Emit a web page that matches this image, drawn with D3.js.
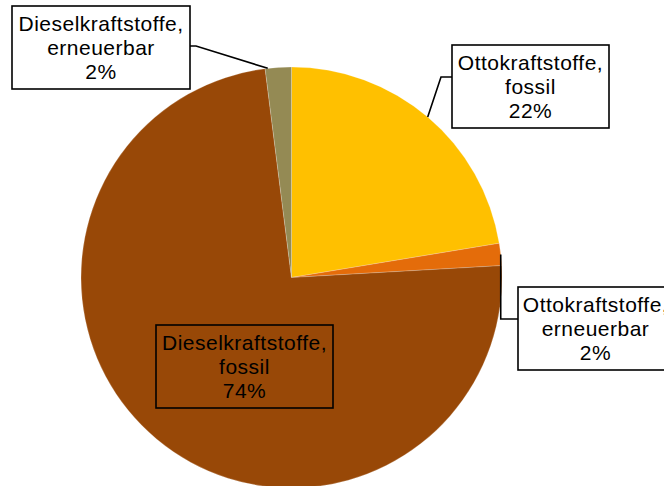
<!DOCTYPE html>
<html>
<head>
<meta charset="utf-8">
<script src="https://cdn.jsdelivr.net/npm/d3@7"></script>
<style>
  body { margin: 0; background: #fff; }
  svg { display: block; }
  .lbl text { font-family: "Liberation Sans", Arial, sans-serif; font-size: 21px; letter-spacing: 0.5px; fill: #000; }
</style>
</head>
<body>
<svg width="664" height="486"></svg>
<script>
// Daten
const categories = ["Ottokraftstoffe, fossil", "Ottokraftstoffe, erneuerbar", "Dieselkraftstoffe, fossil", "Dieselkraftstoffe, erneuerbar"];
const values = [22.4, 1.7, 73.9, 2.0];
const colors = ["#FFC000", "#E46C0A", "#984807", "#948A54"];

// Lage der Beschriftungen (Kasten links/oben, Knickpunkt der Führungslinie)
const labelBoxes = [
  { x: 452, y: 45, w: 157, h: 83, elbow: [441, 77], at: 0.5 },
  { x: 518, y: 287, w: 155, h: 83, elbow: [503, 319], at: 0.5, vertical: true },
  { x: 156, y: 325, w: 177, h: 83, elbow: null, at: 0.5 },
  { x: 12, y: 6, w: 178, h: 83, elbow: [196, 46], at: 0.1 }
];

const svg = d3.select("svg");
const cx = 291.5, cy = 277.5, r = 210.5;

const total = d3.sum(values);
const data = categories.map((c, i) => ({ name: c, value: values[i], color: colors[i], box: labelBoxes[i] }));

const pie = d3.pie().sort(null).value(d => d.value);
const arc = d3.arc().innerRadius(0).outerRadius(r);
const arcs = pie(data);

const g = svg.append("g").attr("transform", `translate(${cx},${cy})`);

g.selectAll("path")
  .data(arcs)
  .enter()
  .append("path")
  .attr("d", arc)
  .attr("fill", d => d.data.color)
  .attr("stroke", "rgba(255,255,255,0.35)")
  .attr("stroke-width", 0.6);

// Punkt auf dem Kreisrand
function edgePoint(d) {
  const a = d.startAngle + (d.endAngle - d.startAngle) * d.data.box.at;
  return [cx + r * Math.sin(a), cy - r * Math.cos(a)];
}

// Führungslinien
arcs.forEach(d => {
  const b = d.data.box;
  if (!b.elbow) return;
  const p = edgePoint(d);
  let pts;
  if (b.vertical) {
    pts = [p, [p[0], b.elbow[1]], [b.x, b.elbow[1]]];
  } else {
    const edgeX = b.elbow[0] > b.x ? b.x + b.w : b.x;
    pts = [[edgeX, b.elbow[1]], b.elbow, p];
  }
  svg.append("path")
    .attr("d", d3.line()(pts))
    .attr("fill", "none")
    .attr("stroke", "#000")
    .attr("stroke-width", 1.6);
});

// Beschriftungskästen
const lbl = svg.selectAll("g.lbl")
  .data(arcs)
  .enter()
  .append("g")
  .attr("class", "lbl")
  .attr("transform", d => `translate(${d.data.box.x},${d.data.box.y})`);

lbl.append("rect")
  .attr("width", d => d.data.box.w)
  .attr("height", d => d.data.box.h)
  .attr("fill", d => d.data.box.elbow ? "#fff" : "none")
  .attr("stroke", "#000")
  .attr("stroke-width", 1.6);

lbl.each(function (d) {
  const parts = d.data.name.split(", ");
  const lines = [parts[0] + ",", parts[1], Math.round(d.data.value / total * 100) + "%"];
  d3.select(this).selectAll("text")
    .data(lines)
    .enter()
    .append("text")
    .attr("x", d.data.box.w / 2)
    .attr("y", (t, i) => 25 + i * 24)
    .attr("text-anchor", "middle")
    .text(t => t);
});
</script>
</body>
</html>
